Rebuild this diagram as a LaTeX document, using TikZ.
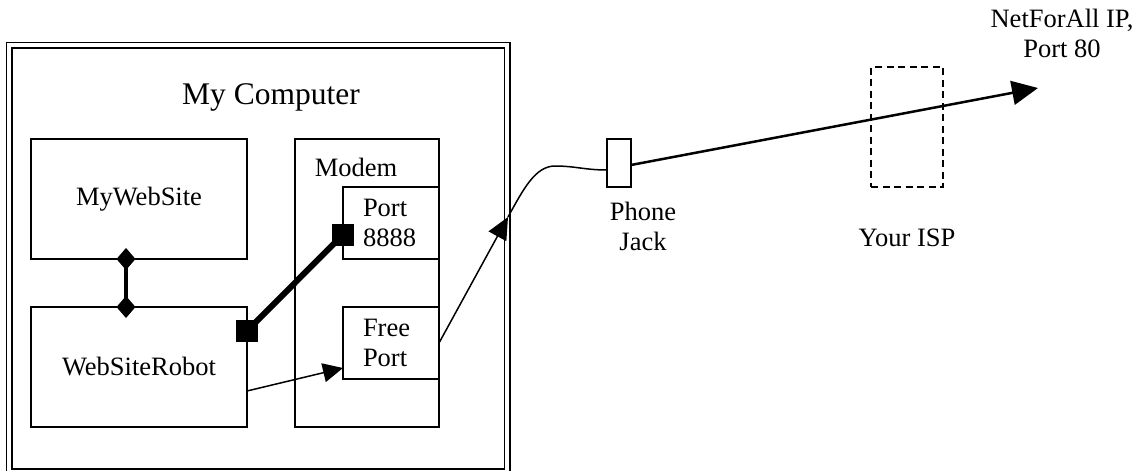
\documentclass[tikz,border=0pt]{standalone}
\usepackage{fontspec}
\setmainfont{Liberation Serif}
\usetikzlibrary{arrows.meta}

\tikzset{
	box/.style={draw, line width=1.6pt, inner sep=0pt, outer sep=0pt, anchor=north west, font=\fontsize{26.5}{30}\selectfont},
	txt/.style={inner sep=0pt, align=center, font=\fontsize{26.5}{30}\selectfont},
	sq/.style={fill=black, inner sep=0pt, minimum size=22pt},
	wire/.style={line width=1.5pt}
}

\begin{document}
\begin{tikzpicture}[x=1pt, y=-1pt]
	\useasboundingbox (0,0) rectangle (1146,471);
	\node[draw, double, double distance=3.6pt, line width=1.7pt, inner sep=0pt, outer sep=0pt, anchor=north west, minimum width=497.8pt, minimum height=426.6pt] (computer) at (9.2,45) {};
	\node[txt, font=\fontsize{31.5}{36}\selectfont] (title) at (271,97) {My Computer};
	\node[box, minimum width=216pt, minimum height=120pt] (web) at (31,139) {MyWebSite};
	\node[box, minimum width=216pt, minimum height=120pt] (robot) at (31,307) {WebSiteRobot};
	\node[box, minimum width=144pt, minimum height=288pt] (modem) at (295,139) {};
	\node[txt] (modemlbl) at (356,167) {Modem};
	\node[box, minimum width=96pt, minimum height=72pt, text width=56pt, align=left] (port8888) at (343,187) {Port\\8888};
	\node[box, minimum width=96pt, minimum height=72pt, text width=56pt, align=left] (freeport) at (343,307) {Free\\Port};
	\node[box, minimum width=24pt, minimum height=48pt] (jack) at (607,139) {};
	\node[txt] (jacklbl) at (643,226) {Phone\\Jack};
	\node[box, dash pattern=on 7pt off 4.5pt, minimum width=72pt, minimum height=120pt] (isp) at (871,67) {};
	\node[txt] (isplbl) at (907,238) {Your ISP};
	\node[txt] (netforall) at (1062,33) {NetForAll IP,\\Port 80};
	\coordinate (netip) at (1038,88);
	\coordinate (wall) at (508,217);

	\draw[line width=4pt, {Diamond[length=22pt,width=19pt]}-{Diamond[length=22pt,width=19pt]}, shorten <=-11pt, shorten >=-11pt] ([xshift=-13pt]web.south) -- ([xshift=-13pt]robot.north);
	\draw[line width=6pt] ([yshift=36pt]robot.east) node[sq] (sqa) {} -- ([yshift=-11.5pt]port8888.west) node[sq] (sqb) {};
	\draw[wire, -{Triangle[length=20pt,width=19pt]}] ([yshift=-24pt]robot.east) -- ([yshift=-25pt]freeport.west);
	\draw[wire, -{Triangle[length=22pt,width=20pt]}] (freeport.east) -- (wall);
	\draw[wire] (wall) .. controls (523,190) and (535,166) .. (555,166) .. controls (575,166) and (585,170) .. ([yshift=-7pt]jack.west);
	\draw[line width=2.5pt, -{Triangle[length=26pt,width=24pt]}] ([yshift=-2pt]jack.east) -- (netip);
\end{tikzpicture}
\end{document}
